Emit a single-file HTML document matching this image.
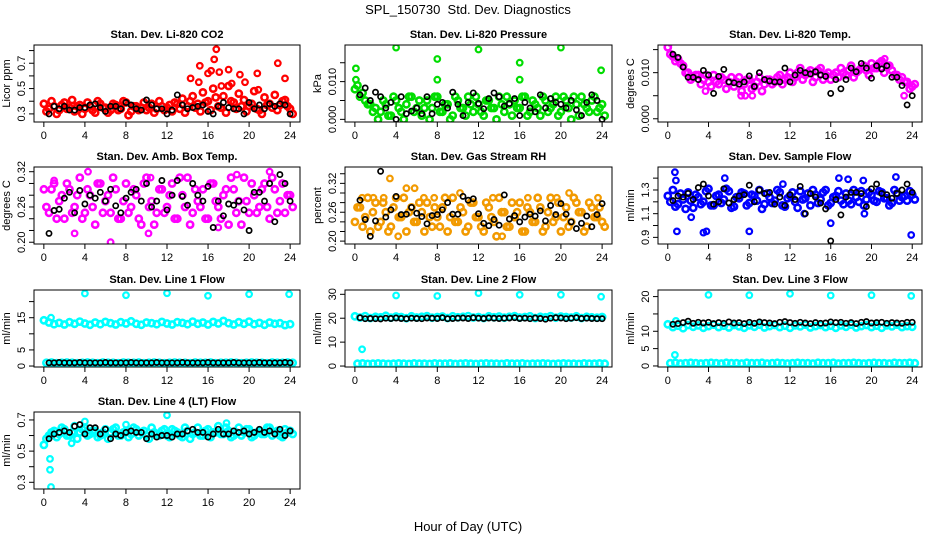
<!DOCTYPE html>
<html><head><meta charset="utf-8"><style>
html,body{margin:0;padding:0;background:#fff;}
svg{display:block;font-family:"Liberation Sans",Arial,sans-serif;}
</style></head><body>
<svg id="chart" width="936" height="540" viewBox="0 0 936 540" xmlns="http://www.w3.org/2000/svg">
<text x="468" y="14" text-anchor="middle" font-size="13">SPL_150730&#160; Std. Dev. Diagnostics</text>
<text x="468" y="531" text-anchor="middle" font-size="13">Hour of Day (UTC)</text>
</svg>
<script>
const xTicks=[0,4,8,12,16,20,24];
// Panel 1 CO2
const co2A=[0.38,0.34,0.36,0.33,0.39,0.35,0.32,0.37,0.34,0.36,0.31,0.38,0.35,0.33,0.37,0.34,0.39,0.32,0.36,0.35,0.33,0.38,0.34,0.36,0.35,0.32,0.38,0.42,0.36,0.44,0.38,0.47,0.40,0.50,0.36,0.44,0.52,0.39,0.46,0.41,0.36,0.48,0.33,0.43,0.38,0.45,0.37,0.41,0.34];
const co2B=[0.32,0.40,0.30,0.37,0.34,0.41,0.36,0.30,0.39,0.33,0.40,0.35,0.31,0.38,0.33,0.40,0.29,0.36,0.33,0.39,0.35,0.31,0.40,0.33,0.37,0.39,0.34,0.31,0.40,0.35,0.32,0.39,0.33,0.43,0.35,0.31,0.40,0.34,0.36,0.32,0.38,0.34,0.30,0.37,0.35,0.33,0.40,0.36,0.30];
const co2OutH=[15.2,16.0,16.3,16.6,16.8,17.1,18.0,19.1,14.3,20.8,22.8,23.5,15.1,18.3,19.6,17.3,20.9];
const co2OutV=[0.68,0.62,0.64,0.73,0.81,0.63,0.65,0.61,0.58,0.62,0.70,0.58,0.55,0.54,0.55,0.52,0.49];
const co2K=[0.30,0.36,0.34,0.36,0.33,0.33,0.35,0.35,0.37,0.38,0.35,0.32,0.36,0.36,0.34,0.39,0.37,0.34,0.33,0.41,0.37,0.34,0.34,0.30,0.33,0.45,0.37,0.34,0.35,0.36,0.37,0.32,0.30,0.36,0.39,0.35,0.34,0.34,0.30,0.39,0.34,0.37,0.34,0.38,0.36,0.38,0.37,0.30];
// Panel 2 Pressure
const prA=[0.008,0.006,0.005,0.004,0.003,0.002,0.004,0.001,0.005,0.002,0.004,0.006,0.003,0.001,0.005,0.003,0.006,0.002,0.004,0.001,0.005,0.003,0.006,0.002,0.004,0.001,0.005,0.003,0.006,0.002,0.004,0.005,0.003,0.006,0.002,0.004,0.001,0.005,0.003,0.006,0.002,0.005,0.000,0.004,0.006,0.003,0.005,0.002,0.004];
const prB=[0.009,0.007,0.004,0.002,0.000,0.005,0.001,0.006,0.003,0.000,0.006,0.002,0.005,0.003,0.000,0.006,0.002,0.004,0.000,0.006,0.003,0.001,0.004,0.006,0.002,0.005,0.003,0.000,0.004,0.006,0.001,0.003,0.006,0.001,0.005,0.003,0.006,0.002,0.004,0.001,0.006,0.003,0.006,0.001,0.004,0.002,0.006,0.003,0.001];
const prOutH=[0.1,0.1,4.0,8.0,8.0,12.0,16.0,16.0,20.0,23.9];
const prOutV=[0.0135,0.0105,0.019,0.016,0.0105,0.0185,0.0150,0.0105,0.019,0.013];
const prK=[0.0065,0.0083,0.0050,0.0072,0.0060,0.0030,0.0045,0.0000,0.0060,0.0015,0.0022,0.0030,0.0015,0.0060,0.0015,0.0040,0.0045,0.0030,0.0072,0.0040,0.0010,0.0045,0.0070,0.0042,0.0028,0.0055,0.0070,0.0060,0.0035,0.0042,0.0055,0.0010,0.0045,0.0030,0.0020,0.0065,0.0030,0.0055,0.0045,0.0040,0.0030,0.0050,0.0025,0.0010,0.0045,0.0065,0.0050,0.0000];
// Panel 3 Li-820 Temp
const ltA=[0.0155,0.0135,0.0130,0.0115,0.0100,0.0090,0.0095,0.0085,0.0080,0.0095,0.0075,0.0085,0.0080,0.0070,0.0090,0.0075,0.0085,0.0070,0.0090,0.0075,0.0085,0.0080,0.0095,0.0085,0.0100,0.0090,0.0110,0.0095,0.0105,0.0090,0.0110,0.0095,0.0085,0.0100,0.0110,0.0095,0.0115,0.0100,0.0110,0.0105,0.0120,0.0110,0.0125,0.0115,0.0105,0.0095,0.0090,0.0080,0.0070];
const ltB=[0.0140,0.0125,0.0120,0.0100,0.0085,0.0095,0.0075,0.0095,0.0070,0.0080,0.0090,0.0065,0.0090,0.0080,0.0060,0.0085,0.0065,0.0080,0.0060,0.0085,0.0075,0.0090,0.0075,0.0090,0.0080,0.0100,0.0085,0.0100,0.0080,0.0105,0.0085,0.0100,0.0095,0.0090,0.0100,0.0105,0.0090,0.0105,0.0115,0.0095,0.0110,0.0120,0.0100,0.0115,0.0095,0.0085,0.0080,0.0065,0.0075];
const ltOutH=[0.2,3.7,7.2,7.6,8.3,21.3,23.2];
const ltOutV=[0.0165,0.006,0.005,0.005,0.005,0.013,0.005];
const ltK=[0.0140,0.0133,0.0112,0.0090,0.0090,0.0085,0.0105,0.0095,0.0055,0.0092,0.0107,0.0080,0.0078,0.0075,0.0080,0.0093,0.0070,0.0100,0.0085,0.0082,0.0080,0.0080,0.0110,0.0080,0.0095,0.0105,0.0100,0.0097,0.0102,0.0095,0.0092,0.0055,0.0085,0.0065,0.0085,0.0110,0.0102,0.0120,0.0110,0.0088,0.0115,0.0108,0.0115,0.0090,0.0090,0.0072,0.0030,0.0050];
// Panel 4 Amb Box Temp
const abA=[0.29,0.25,0.30,0.27,0.24,0.29,0.26,0.31,0.25,0.28,0.23,0.30,0.27,0.25,0.29,0.24,0.30,0.26,0.28,0.23,0.31,0.27,0.25,0.29,0.26,0.30,0.24,0.28,0.31,0.25,0.27,0.29,0.24,0.30,0.26,0.28,0.23,0.29,0.27,0.31,0.25,0.28,0.26,0.30,0.24,0.29,0.27,0.25,0.28];
const abB=[0.26,0.29,0.24,0.28,0.30,0.25,0.28,0.24,0.29,0.26,0.30,0.25,0.28,0.31,0.24,0.27,0.25,0.29,0.24,0.30,0.26,0.23,0.29,0.25,0.28,0.24,0.31,0.26,0.23,0.29,0.26,0.24,0.30,0.27,0.24,0.29,0.31,0.25,0.23,0.27,0.30,0.25,0.29,0.26,0.31,0.25,0.30,0.28,0.26];
const abOutH=[1.0,4.3,6.5,10.4,10.2,18.8,22.0,17.0,3.0];
const abOutV=[0.305,0.32,0.20,0.31,0.215,0.315,0.32,0.225,0.215];
const abK=[0.215,0.254,0.256,0.275,0.285,0.250,0.288,0.265,0.280,0.275,0.285,0.270,0.290,0.262,0.250,0.275,0.285,0.290,0.270,0.300,0.260,0.270,0.305,0.255,0.280,0.305,0.278,0.263,0.300,0.280,0.270,0.295,0.225,0.270,0.245,0.265,0.263,0.270,0.255,0.220,0.285,0.285,0.270,0.300,0.235,0.315,0.300,0.270];
// Panel 5 Gas Stream RH
const rhA=[0.24,0.27,0.25,0.22,0.28,0.24,0.26,0.23,0.29,0.25,0.22,0.27,0.24,0.26,0.28,0.23,0.25,0.27,0.22,0.29,0.24,0.26,0.23,0.28,0.25,0.22,0.27,0.24,0.29,0.26,0.23,0.25,0.28,0.22,0.26,0.24,0.27,0.23,0.29,0.25,0.22,0.27,0.24,0.28,0.26,0.23,0.27,0.25,0.24];
const rhB=[0.27,0.23,0.29,0.26,0.23,0.28,0.22,0.27,0.25,0.29,0.26,0.24,0.28,0.22,0.25,0.27,0.23,0.29,0.25,0.24,0.27,0.22,0.28,0.25,0.23,0.28,0.25,0.21,0.26,0.23,0.28,0.26,0.22,0.27,0.24,0.29,0.22,0.26,0.24,0.28,0.25,0.23,0.29,0.26,0.22,0.28,0.25,0.27,0.23];
const rhOutH=[0.7,1.8,2.8,3.4,5.0,5.8,6.7,7.7,10.2,13.4,16.8,19.6,20.8,23.6,14.3,4.2];
const rhOutV=[0.29,0.29,0.29,0.33,0.31,0.31,0.29,0.29,0.30,0.29,0.29,0.29,0.30,0.29,0.21,0.21];
const rhK=[0.285,0.245,0.210,0.242,0.345,0.250,0.265,0.293,0.255,0.256,0.270,0.258,0.251,0.236,0.253,0.255,0.265,0.280,0.256,0.256,0.293,0.285,0.288,0.257,0.237,0.232,0.245,0.233,0.296,0.246,0.253,0.240,0.250,0.256,0.252,0.263,0.242,0.274,0.255,0.278,0.256,0.240,0.226,0.237,0.252,0.230,0.255,0.278];
// Panel 6 Sample Flow
const sfA=[1.25,1.30,1.18,1.22,1.28,1.15,1.24,1.20,1.31,1.17,1.26,1.22,1.29,1.16,1.23,1.27,1.19,1.25,1.30,1.18,1.24,1.21,1.28,1.16,1.25,1.20,1.29,1.23,1.17,1.26,1.22,1.30,1.19,1.25,1.21,1.27,1.18,1.24,1.29,1.22,1.26,1.20,1.28,1.23,1.19,1.27,1.24,1.21,1.26];
const sfB=[1.20,1.16,1.27,1.14,1.21,1.26,1.18,1.29,1.17,1.25,1.19,1.31,1.15,1.24,1.28,1.17,1.26,1.21,1.14,1.27,1.19,1.30,1.17,1.23,1.28,1.15,1.22,1.27,1.30,1.19,1.28,1.17,1.24,1.29,1.18,1.21,1.30,1.20,1.17,1.28,1.21,1.29,1.23,1.17,1.30,1.21,1.25,1.29,1.22];
const sfOutH=[0.7,0.8,0.9,2.3,3.5,3.8,5.6,8.0,16.0,16.8,17.7,19.2,22.4,23.9,19.3,13.4,11.3];
const sfOutV=[1.45,1.38,0.95,1.07,0.94,0.95,1.40,0.95,1.02,1.40,1.39,1.38,1.41,0.92,1.10,1.10,1.35];
const sfK=[1.21,1.25,1.24,1.27,1.22,1.32,1.35,1.25,1.18,1.20,1.31,1.19,1.22,1.25,1.26,1.34,1.20,1.30,1.27,1.28,1.18,1.24,1.17,1.26,1.22,1.33,1.10,1.27,1.24,1.19,1.14,0.87,1.22,1.09,1.24,1.28,1.28,1.27,1.16,1.31,1.35,1.27,1.26,1.23,1.27,1.30,1.35,1.28];
// Panel 7 Line 1 Flow
const l1A=[14.2,13.5,13.0,13.4,12.9,13.6,13.1,13.8,13.2,12.8,13.5,13.0,13.7,13.3,12.9,13.6,13.2,13.9,13.1,12.8,13.5,13.3,13.0,13.7,13.2,12.9,13.6,13.4,13.0,13.8,13.1,13.5,12.9,13.7,13.2,14.0,13.3,12.9,13.6,13.1,13.8,13.0,13.4,12.8,13.5,13.1,13.3,12.7,13.0];
const l1B=[1.0,1.1,0.9,1.0,1.1,1.0,0.9,1.0,1.1,1.0,0.9,1.1,1.0,1.0,0.9,1.1,1.0,1.0,1.1,0.9,1.0,1.1,1.0,0.9,1.0,1.1,1.0,1.0,0.9,1.1,1.0,1.0,1.1,0.9,1.0,1.0,1.1,1.0,0.9,1.0,1.1,1.0,1.0,0.9,1.1,1.0,1.0,1.1,1.0];
const l1OutH=[0.7,4,8,12,16,20,23.9];
const l1OutV=[15.0,22.5,22.0,22.6,21.8,22.3,22.3];
const l1K=[1.0,1.0,1.1,1.0,1.0,1.0,1.1,1.0,1.0,1.0,1.0,1.1,1.0,1.0,1.0,1.0,1.1,1.0,1.0,1.0,1.0,1.1,1.0,1.0,1.0,1.0,1.1,1.0,1.0,1.0,1.0,1.1,1.0,1.0,1.0,1.0,1.1,1.0,1.0,1.0,1.0,1.1,1.0,1.0,1.0,1.0,1.1,1.0];
// Panel 8 Line 2 Flow
const l2A=[20.8,20.3,20.9,20.1,20.6,20.4,21.0,20.2,20.7,20.5,20.0,20.8,20.3,20.6,20.9,20.2,20.5,20.7,20.1,20.8,20.4,20.6,20.9,20.3,20.5,20.1,20.8,20.4,20.7,20.2,20.6,20.9,20.3,20.5,20.8,20.1,20.6,20.4,20.9,20.2,20.7,20.5,20.3,20.8,20.1,20.6,20.4,20.2,20.5];
const l2B=[1.0,1.1,0.9,1.0,1.1,1.0,0.9,1.0,1.1,1.0,0.9,1.1,1.0,1.0,0.9,1.1,1.0,1.0,1.1,0.9,1.0,1.1,1.0,0.9,1.0,1.1,1.0,1.0,0.9,1.1,1.0,1.0,1.1,0.9,1.0,1.0,1.1,1.0,0.9,1.0,1.1,1.0,1.0,0.9,1.1,1.0,1.0,1.1,1.0];
const l2OutH=[0.7,4,8,12,16,20,23.9];
const l2OutV=[7.0,29.5,29.3,30.5,29.8,29.8,29.0];
const l2K=[20.2,19.8,19.9,19.8,19.7,20.0,19.9,20.1,19.9,19.8,20.0,19.9,19.8,20.1,20.0,19.9,20.2,19.8,19.9,20.0,20.1,19.9,20.2,20.0,19.9,20.1,20.0,19.9,20.0,20.1,20.2,19.9,20.0,19.8,20.1,19.9,19.6,20.0,20.2,20.1,19.8,20.0,20.2,19.9,20.0,19.9,19.8,19.8];
// Panel 9 Line 3 Flow
const l3A=[12.0,11.2,11.6,10.9,11.8,11.3,11.7,11.0,11.5,11.9,11.2,11.6,11.1,11.8,11.4,11.0,11.7,11.3,11.9,11.1,11.5,11.8,11.2,11.6,11.0,11.7,11.4,11.9,11.1,11.5,11.8,11.2,11.6,11.0,11.7,11.3,11.9,11.1,11.5,11.8,11.2,11.6,11.0,11.7,11.4,11.9,11.2,11.5,11.3];
const l3B=[0.8,0.9,0.7,0.8,0.9,0.8,0.7,0.8,0.9,0.8,0.7,0.9,0.8,0.8,0.7,0.9,0.8,0.8,0.9,0.7,0.8,0.9,0.8,0.7,0.8,0.9,0.8,0.8,0.7,0.9,0.8,0.8,0.9,0.7,0.8,0.8,0.9,0.8,0.7,0.8,0.9,0.8,0.8,0.7,0.9,0.8,0.8,0.9,0.8];
const l3OutH=[0.7,0.8,4,8,12,16,20,23.9];
const l3OutV=[3.2,13.0,20.5,20.4,20.8,20.3,20.4,20.2];
const l3K=[12.0,12.2,12.5,12.9,12.3,12.6,12.4,12.6,12.2,12.5,12.3,12.7,12.4,12.5,12.2,12.6,12.3,12.7,12.5,12.4,12.2,12.6,12.8,12.5,12.3,12.6,12.4,12.2,12.5,12.3,12.4,12.7,12.5,12.6,12.3,12.5,12.2,12.6,12.8,12.4,12.5,12.6,12.3,12.5,12.4,12.3,12.6,12.6];
// Panel 10 Line 4 (LT) Flow
const l4A=[0.54,0.60,0.63,0.61,0.64,0.60,0.66,0.62,0.65,0.61,0.63,0.60,0.64,0.62,0.65,0.60,0.63,0.61,0.64,0.62,0.60,0.65,0.61,0.63,0.60,0.64,0.62,0.59,0.63,0.61,0.65,0.60,0.64,0.62,0.66,0.61,0.63,0.60,0.65,0.62,0.64,0.60,0.63,0.61,0.65,0.62,0.60,0.64,0.63];
const l4B=[0.58,0.62,0.59,0.65,0.60,0.62,0.58,0.64,0.60,0.63,0.59,0.62,0.58,0.64,0.60,0.62,0.59,0.65,0.60,0.63,0.58,0.62,0.60,0.64,0.59,0.63,0.60,0.65,0.58,0.62,0.60,0.63,0.59,0.62,0.61,0.65,0.59,0.62,0.60,0.64,0.59,0.62,0.61,0.65,0.60,0.63,0.59,0.62,0.61];
const l4OutH=[0.6,0.6,0.7,12,4,8,17.8,2.7];
const l4OutV=[0.45,0.38,0.27,0.73,0.69,0.67,0.68,0.55];
const l4K=[0.58,0.61,0.62,0.63,0.62,0.66,0.67,0.61,0.65,0.65,0.61,0.64,0.58,0.61,0.60,0.62,0.63,0.62,0.62,0.58,0.61,0.59,0.60,0.60,0.59,0.61,0.61,0.63,0.64,0.62,0.62,0.59,0.61,0.64,0.61,0.61,0.63,0.62,0.63,0.61,0.62,0.64,0.62,0.63,0.61,0.64,0.60,0.63];
// y ticks
const co2Ticks=[0.3,0.4,0.5,0.6,0.7,0.8], co2Lab=['0.3','','0.5','','0.7',''];
const prTicks=[0,0.005,0.010,0.015], prLab=['0.000','','0.010',''];
const ltTicks=[0,0.005,0.010,0.015], ltLab=['0.000','','0.010',''];
const abTicks=[0.20,0.22,0.24,0.26,0.28,0.30,0.32], abLab=['0.20','','','0.26','','','0.32'];
const rhTicks=[0.20,0.22,0.24,0.26,0.28,0.30,0.32,0.34], rhLab=['0.20','','','0.26','','','0.32',''];
const sfTicks=[0.9,1.0,1.1,1.2,1.3,1.4], sfLab=['0.9','','1.1','','1.3',''];
const l1Ticks=[0,5,10,15,20], l1Lab=['0','5','','15',''];
const l2Ticks=[0,10,20,30], l2Lab=['0','10','20','30'];
const l3Ticks=[0,5,10,15,20], l3Lab=['0','5','10','','20'];
const l4Ticks=[0.3,0.4,0.5,0.6,0.7], l4Lab=['0.3','','0.5','','0.7'];

const panels=[
 {id:'co2',title:'Stan. Dev. Li-820 CO2',yl:'Licor ppm',col:0,row:0,ymin:0.236,ymax:0.844,c:'#ff0000',A:co2A,B:co2B,oh:co2OutH,ov:co2OutV,K:co2K,t:co2Ticks,tl:co2Lab},
 {id:'pressure',title:'Stan. Dev. Li-820 Pressure',yl:'kPa',col:1,row:0,ymin:-0.0007,ymax:0.0197,c:'#00dd00',A:prA,B:prB,oh:prOutH,ov:prOutV,K:prK,t:prTicks,tl:prLab},
 {id:'li820-temp',title:'Stan. Dev. Li-820 Temp.',yl:'degrees C',col:2,row:0,ymin:-0.0007,ymax:0.016,c:'#ff00ff',A:ltA,B:ltB,oh:ltOutH,ov:ltOutV,K:ltK,t:ltTicks,tl:ltLab},
 {id:'amb-box-temp',title:'Stan. Dev. Amb. Box Temp.',yl:'degrees C',col:0,row:1,ymin:0.197,ymax:0.328,c:'#ff00ff',A:abA,B:abB,oh:abOutH,ov:abOutV,K:abK,t:abTicks,tl:abLab},
 {id:'gas-rh',title:'Stan. Dev. Gas Stream RH',yl:'percent',col:1,row:1,ymin:0.194,ymax:0.354,c:'#f29a00',A:rhA,B:rhB,oh:rhOutH,ov:rhOutV,K:rhK,t:rhTicks,tl:rhLab},
 {id:'sample-flow',title:'Stan. Dev. Sample Flow',yl:'ml/min',col:2,row:1,ymin:0.844,ymax:1.494,c:'#0000ff',A:sfA,B:sfB,oh:sfOutH,ov:sfOutV,K:sfK,t:sfTicks,tl:sfLab},
 {id:'line1-flow',title:'Stan. Dev. Line 1 Flow',yl:'ml/min',col:0,row:2,ymin:-0.3,ymax:23.6,c:'#00ffff',A:l1A,B:l1B,oh:l1OutH,ov:l1OutV,K:l1K,t:l1Ticks,tl:l1Lab},
 {id:'line2-flow',title:'Stan. Dev. Line 2 Flow',yl:'ml/min',col:1,row:2,ymin:-0.4,ymax:31.8,c:'#00ffff',A:l2A,B:l2B,oh:l2OutH,ov:l2OutV,K:l2K,t:l2Ticks,tl:l2Lab},
 {id:'line3-flow',title:'Stan. Dev. Line 3 Flow',yl:'ml/min',col:2,row:2,ymin:-0.3,ymax:21.9,c:'#00ffff',A:l3A,B:l3B,oh:l3OutH,ov:l3OutV,K:l3K,t:l3Ticks,tl:l3Lab},
 {id:'line4-flow',title:'Stan. Dev. Line 4 (LT) Flow',yl:'ml/min',col:0,row:3,ymin:0.257,ymax:0.751,c:'#00ffff',A:l4A,B:l4B,oh:l4OutH,ov:l4OutV,K:l4K,t:l4Ticks,tl:l4Lab}
];
const colL=[34,345,658], colW=[266,267,264], rowT=[45,167,290,412], H=77;
const NS='http://www.w3.org/2000/svg';
const svg=document.getElementById('chart');
function mk(tag,attrs,parent){const e=document.createElementNS(NS,tag);for(const k in attrs)e.setAttribute(k,attrs[k]);parent.appendChild(e);return e;}
panels.forEach(p=>{
  const L=colL[p.col],W=colW[p.col],T=rowT[p.row],B=T+H;
  const xs=h=>L+(h+0.96)/25.92*W;
  const ys=v=>B-(v-p.ymin)/(p.ymax-p.ymin)*H;
  const g=mk('g',{},svg);
  
  
  const tt=mk('text',{x:L+W/2,y:T-7,'text-anchor':'middle','font-size':'11','font-weight':'bold'},g);
  
  
  tt.textContent=p.title;
  const clipId='clip-'+p.id;
  const cp=mk('clipPath',{id:clipId},g);
  mk('rect',{x:L,y:T,width:W,height:H},cp);
  const pts=mk('g',{'clip-path':'url(#'+clipId+')'},g);
  
  
  const dot=(h,v,color,sw,r,name)=>{
    const c=mk('circle',{cx:xs(h).toFixed(1),cy:ys(v).toFixed(1),r:r,fill:'none',stroke:color,'stroke-width':sw},pts);
    
    
  };
  p.A.forEach((v,i)=>dot(i*0.5,v,p.c,2.6,3.1,'point-'+p.id));
  p.B.forEach((v,i)=>dot(i*0.5+0.25,v,p.c,2.6,3.1,'point-'+p.id));
  p.oh.forEach((h,i)=>dot(h,p.ov[i],p.c,2.2,2.8,'outlier-'+p.id));
  p.K.forEach((v,i)=>dot(0.5+i*0.5,v,'#000',1.7,2.6,'mean-point-'+p.id));
  const box=mk('rect',{x:L,y:T,width:W,height:H,fill:'none',stroke:'#000','stroke-width':1},g);
  
  
  xTicks.forEach(h=>{
    mk('line',{x1:xs(h),x2:xs(h),y1:B,y2:B+5,stroke:'#000'},g);
    const t=mk('text',{x:xs(h),y:B+17,'text-anchor':'middle','font-size':'11'},g);
    
    
    t.textContent=h;
  });
  p.t.forEach((v,i)=>{
    const y=ys(v);
    mk('line',{x1:L-5,x2:L,y1:y,y2:y,stroke:'#000'},g);
    if(p.tl[i]){
      const t=mk('text',{x:L-9,y:y,'text-anchor':'middle','font-size':'11',transform:'rotate(-90 '+(L-9)+' '+y+')'},g);
      
      
      t.textContent=p.tl[i];
    }
  });
  const yl=mk('text',{x:L-24,y:T+H/2,'text-anchor':'middle','font-size':'11',transform:'rotate(-90 '+(L-24)+' '+(T+H/2)+')'},g);
  
  
  yl.textContent=p.yl;
});
</script>
</body></html>
